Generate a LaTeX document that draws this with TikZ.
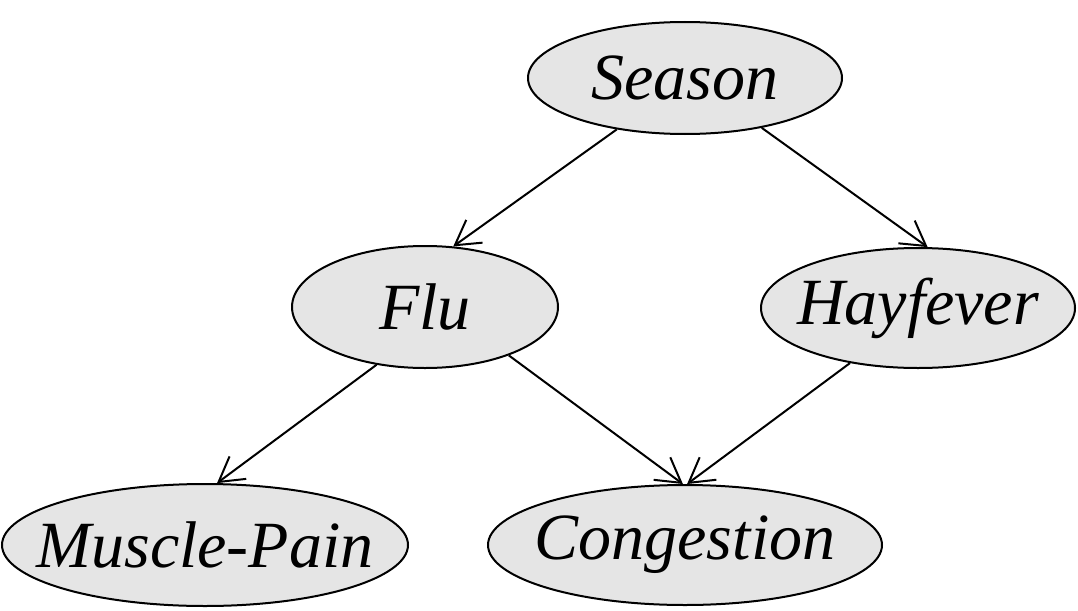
\documentclass[tikz,border=0pt]{standalone}
\usepackage{fontspec}
\setmainfont{Liberation Serif}
\usetikzlibrary{arrows.meta,shapes.geometric}

\begin{document}
\begin{tikzpicture}[>={Straight Barb[length=24pt,width=28pt]}, x=1pt, y=-1pt,
                    var/.style={ellipse, draw, line width=2pt, fill=black!10, inner sep=0pt},
                    lbl/.style={font=\fontsize{66}{70}\selectfont\itshape},
                    edge/.style={->, line width=2pt}]
  % frame
  \fill[white] (0,0) rectangle (1078,610);

  % variables
  \node[var, minimum width=314, minimum height=112] (season) at (685,78) {};
  \node[var, minimum width=266, minimum height=122] (flu) at (425,307) {};
  \node[var, minimum width=314, minimum height=120] (hay) at (918,308) {};
  \node[var, minimum width=406, minimum height=122] (pain) at (205,545) {};
  \node[var, minimum width=394, minimum height=120] (cong) at (685,545) {};

  \node[lbl] (seasonlbl) at (season) {Season};
  \node[lbl] (flulbl) at (flu) {Flu};
  \node[lbl] (haylbl) at (hay) {Hayfever};
  \node[lbl] (painlbl) at (pain) {Muscle-Pain};
  \node[lbl] (conglbl) at (cong) {Congestion};

  % dependencies
  \draw[edge] (season.217) -- (flu.65);
  \draw[edge] (season.327) -- (hay.81);
  \draw[edge] (flu.230) -- (pain.79);
  \draw[edge] (flu.330) -- (cong.92);
  \draw[edge] (hay.219) -- (cong.88);
\end{tikzpicture}
\end{document}
